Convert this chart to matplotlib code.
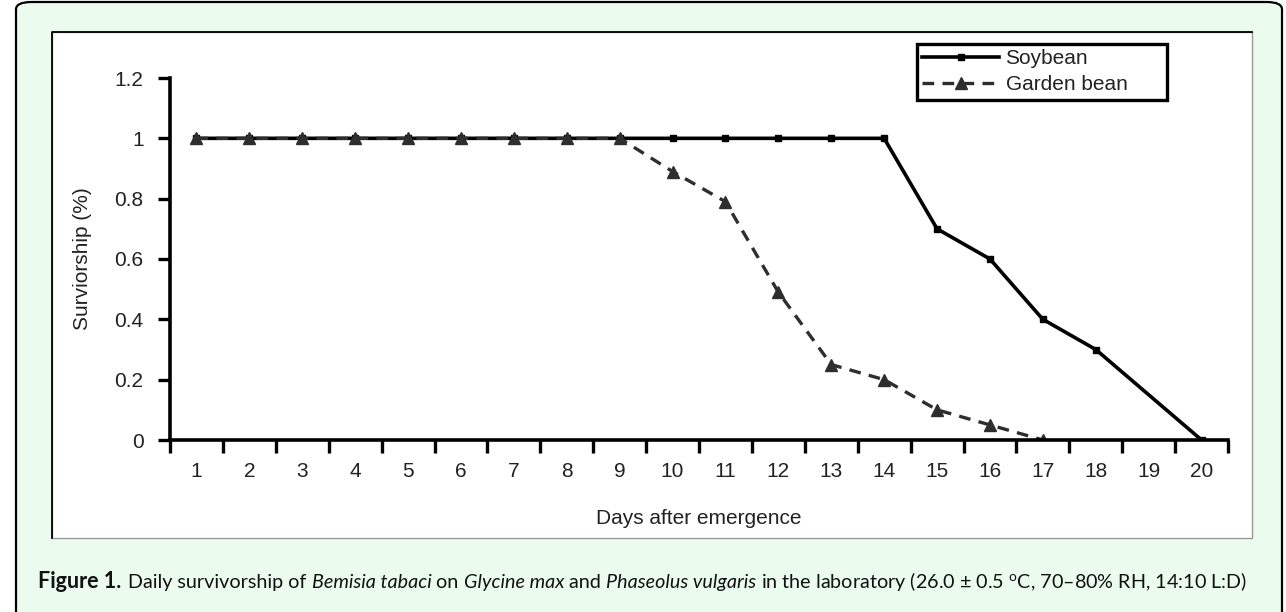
import matplotlib.pyplot as plt
from matplotlib.patches import FancyBboxPatch, Rectangle
from matplotlib.lines import Line2D

# data
days = list(range(1, 21))
soy_days = [1, 2, 3, 4, 5, 6, 7, 8, 9, 10, 11, 12, 13, 14, 15, 16, 17, 18, 20]
soy_surv = [1, 1, 1, 1, 1, 1, 1, 1, 1, 1, 1, 1, 1, 1, 0.7, 0.6, 0.4, 0.3, 0]
bean_days = [1, 2, 3, 4, 5, 6, 7, 8, 9, 10, 11, 12, 13, 14, 15, 16, 17]
bean_surv = [1, 1, 1, 1, 1, 1, 1, 1, 1, 0.89, 0.79, 0.49, 0.25, 0.2, 0.1, 0.05, 0]
yticks = [0, 0.2, 0.4, 0.6, 0.8, 1, 1.2]
ytick_labels = ['0', '0.2', '0.4', '0.6', '0.8', '1', '1.2']

plt.rcParams['mathtext.fontset'] = 'custom'
plt.rcParams['mathtext.rm'] = 'Lato'
plt.rcParams['mathtext.it'] = 'Lato:italic'

W, H = 1286, 612
fig = plt.figure(figsize=(W / 100, H / 100), dpi=100)
fig.patch.set_facecolor('white')

# outer rounded green panel
outer = FancyBboxPatch((16 / W, -40 / H), (1266 / W), (650 / H),
                       boxstyle='round,pad=0,rounding_size=0.012',
                       transform=fig.transFigure, facecolor='#ebfcee',
                       edgecolor='black', linewidth=1.6, zorder=0)
fig.patches.append(outer)

# inner white panel
x0, x1, yt, yb = 52, 1252, 32, 538
inner = Rectangle((x0 / W, 1 - yb / H), (x1 - x0) / W, (yb - yt) / H,
                  transform=fig.transFigure, facecolor='white',
                  edgecolor='#9a9a9a', linewidth=1.0, zorder=1)
fig.patches.append(inner)
fig.lines.append(Line2D([x0 / W, x0 / W, x1 / W], [1 - yb / H, 1 - yt / H, 1 - yt / H],
                        transform=fig.transFigure, color='black', linewidth=1.3, zorder=2))

ax = fig.add_axes([170 / W, 1 - 440 / H, (1228 - 170) / W, (440 - 78) / H])
ax.set_facecolor('none')
ax.set_zorder(3)

ax.plot(soy_days, soy_surv, color='black', linewidth=2.6, marker='s', markersize=5,
        label='Soybean')
ax.plot(bean_days, bean_surv, color='#2e2e2e', linewidth=2.4, linestyle=(0, (3.5, 2.5)),
        marker='^', markersize=9, label='Garden bean')

ax.set_xlim(0.5, 20.5)
ax.set_ylim(0, 1.2)
ax.set_xticks([d + 0.5 for d in [0] + days])
ax.set_xticklabels([])
ax.set_xticks(days, minor=True)
ax.set_xticklabels([str(d) for d in days], minor=True)
ax.tick_params(axis='x', which='minor', length=0, pad=16, labelsize=15)
ax.tick_params(axis='x', which='major', length=9, width=2.4, direction='out')
ax.set_yticks(yticks)
ax.set_yticklabels(ytick_labels)
ax.tick_params(axis='y', length=9, width=2.4, pad=10, labelsize=15)
for lab in ax.get_xticklabels(minor=True) + ax.get_yticklabels():
    lab.set_fontfamily('Liberation Sans')
    lab.set_color('#222222')

for s in ['top', 'right']:
    ax.spines[s].set_visible(False)
for s in ['left', 'bottom']:
    ax.spines[s].set_linewidth(2.6)
ax.spines['left'].set_bounds(0, 1.2)

ax.set_xlabel('Days after emergence', fontsize=15, family='Liberation Sans', labelpad=20,
              color='#222222')
ax.set_ylabel('Surviorship (%)', fontsize=15, family='Liberation Sans', labelpad=16,
              color='#222222')

# legend box: x 917..1167, top at y 44 (pixels)
ah = 440 - 78
aw = 1228 - 170
leg = ax.legend(loc='upper left',
                bbox_to_anchor=((917 - 170) / aw, (440 - 96) / ah, 250 / aw, 52 / ah),
                mode='expand', prop={'family': 'Liberation Sans', 'size': 15},
                fancybox=False, edgecolor='black', framealpha=1, handlelength=3.7,
                borderpad=0.25, labelspacing=0.35, handletextpad=0.3, borderaxespad=0)
leg.get_frame().set_linewidth(2.4)
for t in leg.get_texts():
    t.set_color('#222222')

# caption, built piece by piece so the species names are italic
pieces = [('Figure 1.', 'bold', 'normal'),
          ('Daily survivorship of ', 'normal', 'normal'),
          ('Bemisia tabaci', 'normal', 'italic'),
          (' on ', 'normal', 'normal'),
          ('Glycine max', 'normal', 'italic'),
          (' and ', 'normal', 'normal'),
          ('Phaseolus vulgaris', 'normal', 'italic'),
          (' in the laboratory (26.0 ± 0.5 $^{\\rm o}$C, 70–80% RH, 14:10 L:D)', 'normal', 'normal')]

x = 38
cap_y = 1 - 588 / H
fig.canvas.draw()
renderer = fig.canvas.get_renderer()
for i, (txt, wt, st) in enumerate(pieces):
    t = fig.text(x / W, cap_y, txt, fontsize=15.5 if i == 0 else 14.2, fontweight=wt,
                 fontstyle=st, family='Lato', va='baseline', ha='left', color='#111111')
    bb = t.get_window_extent(renderer=renderer)
    x = bb.x1 + (7 if i == 0 else 0)

fig.savefig('out.png', dpi=100)
